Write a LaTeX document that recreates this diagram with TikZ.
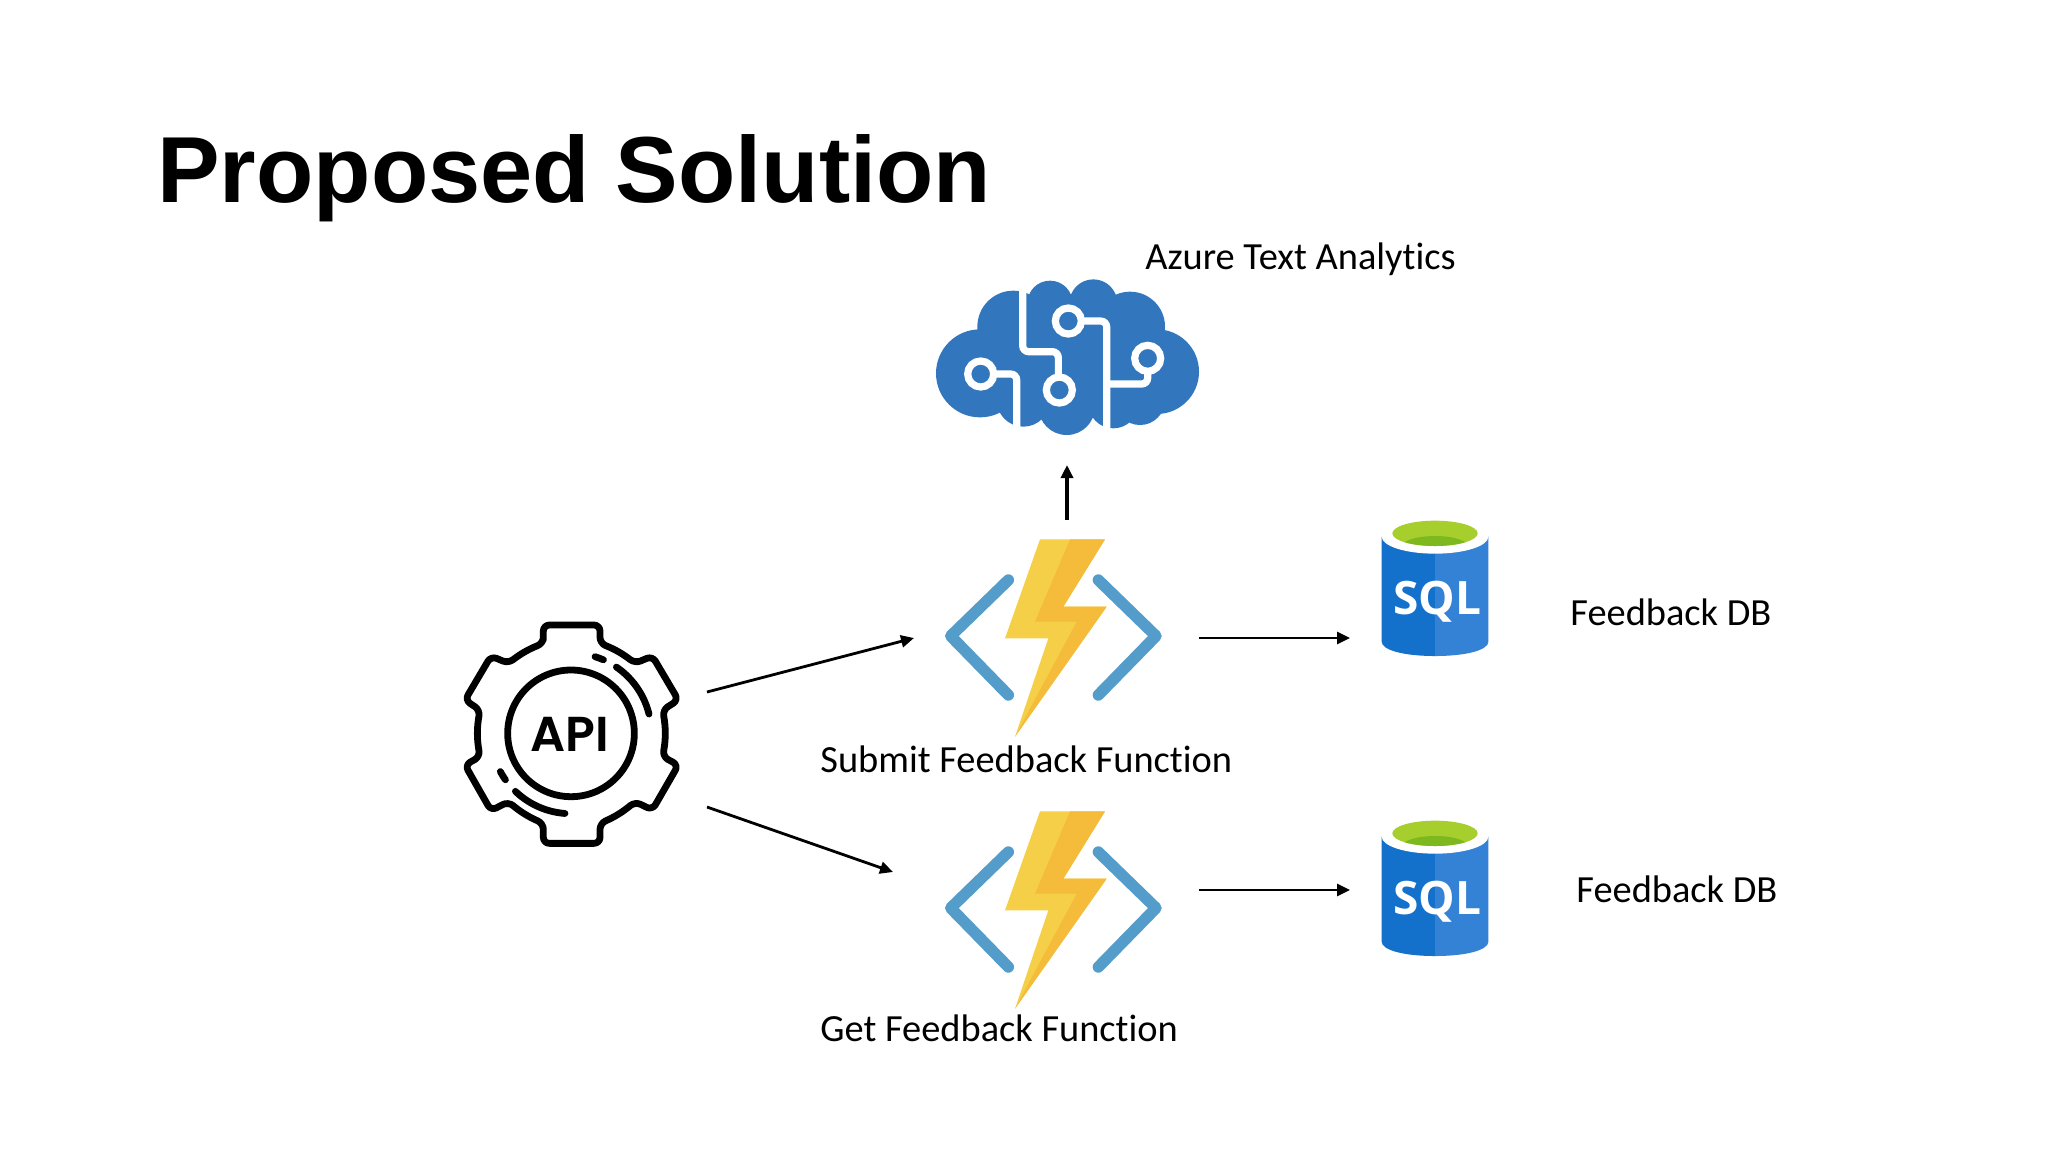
\documentclass[tikz,border=0pt]{standalone}
\usepackage{fontspec}
\setmainfont{Carlito}[Ligatures=NoCommon]
\newfontfamily\titlefont{Liberation Sans}
\newfontfamily\sqlfont{Open Sans}
\newfontfamily\apifont{Poppins SemiBold}
\usetikzlibrary{arrows.meta}
\definecolor{brainblue}{HTML}{3277BE}
\definecolor{boltlight}{HTML}{F5CF47}
\definecolor{boltdark}{HTML}{F4BC3A}
\definecolor{chev}{HTML}{549CCA}
\definecolor{sqlleft}{HTML}{1471CB}
\definecolor{sqlright}{HTML}{3482D6}
\definecolor{sqlgreen}{HTML}{A6CE2C}
\definecolor{sqldeep}{HTML}{7DB81F}
\tikzset{
  zoomunits/.style={x=.16667pt,y=-.16667pt},
  port/.style={rectangle,draw=none,fill=none,inner sep=0pt,outer sep=0pt},
  label/.style={anchor=base west,inner sep=0pt,font=\fontsize{19.2}{23}\selectfont,text=black},
  arr/.style={line width=1.4pt,-{Triangle[length=6.5pt,width=6pt]}},
  arrup/.style={arr,line width=1.9pt},
  fnicon/.pic={
    \begin{scope}[zoomunits]
      \fill[boltlight] (360,58)--(555,58)--(430,260)--(560,260)--(285,650)--(385,355)--(255,355)--cycle;
      \fill[boltdark] (450,58)--(555,58)--(430,260)--(560,260)--(285,650)--(470,305)--(345,305)--cycle;
      \draw[chev,line width=5.7pt,line cap=round,line join=round] (265,180)--(92,348)--(265,525);
      \draw[chev,line width=5.7pt,line cap=round,line join=round] (535,180)--(708,348)--(535,525);
    \end{scope}
  },
  sqlicon/.pic={
    \begin{scope}[zoomunits]
      \fill[sqlleft] (65,110)--(225,110)--(225,468) .. controls (130,468) and (65,450) .. (65,425)--cycle;
      \fill[sqlright] (385,110)--(225,110)--(225,468) .. controls (320,468) and (385,450) .. (385,425)--cycle;
      \fill[white] (225,110) ellipse [x radius=160,y radius=51];
      \fill[sqlgreen] (225,100) ellipse [x radius=128,y radius=38];
      \begin{scope}
        \clip (225,100) ellipse [x radius=128,y radius=38];
        \fill[sqldeep] (225,140) ellipse [x radius=100,y radius=32];
      \end{scope}
      \node[inner sep=0pt,text=white] at (232,305) {\sqlfont\bfseries\fontsize{23}{23}\selectfont SQL};
    \end{scope}
  },
  braincloud/.pic={
    \begin{scope}[zoomunits]
      \fill[brainblue] (240,340) circle [radius=132]
        (340,200) circle [radius=108] (450,130) circle [radius=68] (580,130) circle [radius=72]
        (690,200) circle [radius=105] (770,335) circle [radius=127] (720,420) circle [radius=75]
        (640,430) circle [radius=75] (500,440) circle [radius=85] (370,420) circle [radius=80]
        (200,300)--(320,150)--(700,150)--(800,300)--(720,450)--(250,430)--cycle;
      \draw[white,line width=3.6pt,rounded corners=3pt]
        (368,70)--(368,275)--(475,275)--(475,352);
      \draw[white,line width=3.6pt,rounded corners=3pt]
        (543,183)--(620,183)--(620,530);
      \draw[white,line width=3.6pt,rounded corners=3pt]
        (743,335)--(743,372)--(620,372);
      \draw[white,line width=3.6pt,rounded corners=3pt]
        (280,342)--(350,342)--(350,520);
      \foreach \c in {(505,183),(478,390),(743,295),(242,342)}
        \draw[white,line width=3.6pt] \c circle [radius=39];
    \end{scope}
  },
  apigear/.pic={
    \begin{scope}[zoomunits,line width=3.4pt,line cap=round,line join=round]
      \draw[rounded corners=3pt]
        (310,130)--(310,75)--(480,75)--(480,130) to[bend left=8] (585,190)
        --(637,168)--(715,300)--(668,330) to[bend left=10] (668,470)
        --(715,495)--(637,630)--(585,605) to[bend left=8] (480,670)
        --(480,730)--(310,730)--(310,670) to[bend left=8] (205,605)
        --(153,632)--(75,495)--(120,470) to[bend left=10] (120,330)
        --(75,300)--(153,168)--(205,190) to[bend left=8] cycle;
      \draw (393,400) circle [radius=190];
      \draw plot[smooth,samples=20,domain=13.9:55.6] ({393+241*cos(\x)},{400-241*sin(\x)});
      \draw plot[smooth,samples=6,domain=66.2:72.6] ({393+241*cos(\x)},{400-241*sin(\x)});
      \draw plot[smooth,samples=20,domain=226.2:265.7] ({393+241*cos(\x)},{400-241*sin(\x)});
      \draw plot[smooth,samples=6,domain=208.4:215.3] ({393+241*cos(\x)},{400-241*sin(\x)});
      \node[inner sep=0pt,text=black] at (390,402) {\apifont\fontsize{24.5}{24.5}\selectfont API};
    \end{scope}
  }
}
\begin{document}
\begin{tikzpicture}[x=.5pt,y=-.5pt]
  \useasboundingbox (0,0) rectangle (2048,1152);
  \fill[white] (0,0) rectangle (2048,1152);

  \node[anchor=base west,inner sep=0pt,text=black] (title) at (157,202)
    {\titlefont\bfseries\fontsize{46.9}{50}\selectfont Proposed Solution};

  \pic at (900,260) {braincloud};
  \pic at (440,600) {apigear};
  \pic at (920,520) {fnicon};
  \pic at (920,792) {fnicon};
  \pic at (1360,500) {sqlicon};
  \pic at (1360,800) {sqlicon};

  \node[port,minimum width=135pt,minimum height=92.5pt] (brain) at (1067,372.5) {};
  \node[port,minimum width=135pt,minimum height=57.5pt] (api) at (572,749.5) {};
  \node[port,minimum width=142.5pt,minimum height=118pt] (fnA) at (1056.5,638) {};
  \node[port,minimum width=153pt,minimum height=18pt] (fnB) at (1046,890) {};
  \node[port,minimum width=85pt,minimum height=60pt] (sqlA) at (1435,590) {};
  \node[port,minimum width=85pt,minimum height=60pt] (sqlB) at (1435,890) {};

  \draw[arrup] (brain.south |- fnA.north) -- (brain.south);
  \draw[arr] (api.north east) -- (fnA.west);
  \draw[arr] (api.south east) -- (fnB.north west);
  \draw[arr] (fnA.east) -- (fnA.east -| sqlA.west);
  \draw[arr] (fnB.east) -- (fnB.east -| sqlB.west);

  \node[label] (azureLabel) at (1145,269) {Azure Text Analytics};
  \node[label] (submitLabel) at (820,772.5) {Submit Feedback Function};
  \node[label] (getLabel) at (820,1041.5) {Get Feedback Function};
  \node[label] (dbA) at (1570,625.5) {Feedback DB};
  \node[label] (dbB) at (1576,902.5) {Feedback DB};
\end{tikzpicture}
\end{document}
